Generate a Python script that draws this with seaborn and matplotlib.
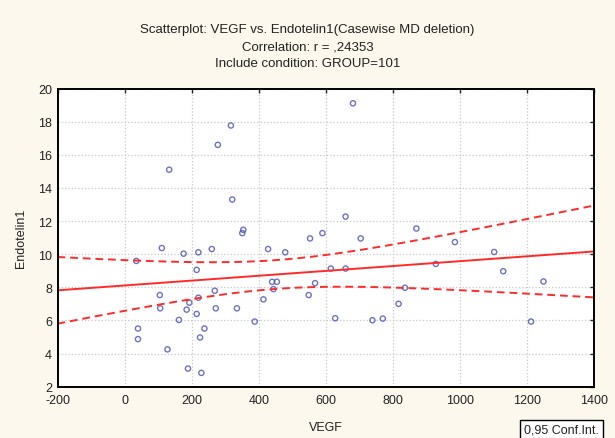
import numpy as np
import pandas as pd
import matplotlib
matplotlib.use("Agg")
import matplotlib.pyplot as plt
import seaborn as sns

vegf = [317, 278, 133, 321, 354, 351, 590, 553, 681, 659, 870, 704, 111, 35, 176,
        220, 260, 428, 479, 215, 615, 105, 106, 40, 40, 128, 162, 185, 193, 215,
        220, 269, 272, 238, 225, 189, 229, 335, 388, 414, 440, 454, 444, 549, 568,
        628, 659, 739, 770, 817, 836, 928, 985, 1102, 1129, 1249, 1212]
endotelin1 = [17.77, 16.6, 15.1, 13.3, 11.47, 11.27, 11.27, 10.95, 19.11, 12.27, 11.55,
              10.95, 10.37, 9.59, 10.03, 10.11, 10.31, 10.31, 10.11, 9.05, 9.13, 7.53,
              6.73, 5.51, 4.87, 4.25, 6.03, 6.65, 7.07, 6.39, 7.37, 7.79, 6.73, 5.51,
              4.97, 3.09, 2.83, 6.73, 5.93, 7.27, 8.33, 8.33, 7.89, 7.53, 8.25, 6.13,
              9.13, 6.01, 6.11, 7.0, 7.97, 9.41, 10.73, 10.13, 8.97, 8.35, 5.93]
x_ticks = list(range(-200, 1401, 200))
y_ticks = list(range(2, 21, 2))
title_lines = ["Scatterplot: VEGF vs. Endotelin1(Casewise MD deletion)",
               "Correlation: r = ,24353",
               "Include condition: GROUP=101"]

df = pd.DataFrame({"VEGF": vegf, "Endotelin1": endotelin1})

sns.set_style("white")
plt.rcParams["font.family"] = ["Liberation Sans", "DejaVu Sans"]
plt.rcParams["axes.unicode_minus"] = False

bg = "#FCF8EE"
fig = plt.figure(figsize=(6.15, 4.39), dpi=100, facecolor=bg)
ax = fig.add_axes([0.0935, 0.117, 0.8725, 0.679])
ax.set_facecolor("white")
ax.set_xlim(-200, 1400)
ax.set_ylim(2, 20)

red = "#FF2A2A"
sns.regplot(data=df, x="VEGF", y="Endotelin1", ax=ax, ci=None, truncate=False,
            scatter_kws=dict(s=14, facecolors="none", edgecolors="#4B4FB5", linewidths=1.0),
            line_kws=dict(color=red, lw=1.4))

# analytic 95% confidence band of the regression line
x = np.asarray(vegf, float)
y = np.asarray(endotelin1, float)
n = len(x)
b, a = np.polyfit(x, y, 1)
resid = y - (a + b * x)
s = np.sqrt(np.sum(resid ** 2) / (n - 2))
t = 2.0049
xg = np.linspace(-200, 1400, 200)
se = s * np.sqrt(1.0 / n + (xg - x.mean()) ** 2 / np.sum((x - x.mean()) ** 2))
yfit = a + b * xg
band = pd.DataFrame({"x": np.concatenate([xg, xg]),
                     "y": np.concatenate([yfit + t * se, yfit - t * se]),
                     "side": ["upper"] * len(xg) + ["lower"] * len(xg)})
for side in ["upper", "lower"]:
    sub = band[band.side == side]
    sns.lineplot(data=sub, x="x", y="y", ax=ax, color=red, lw=1.4,
                 linestyle=(0, (4, 2.5)), legend=False)

ax.set_xlim(-200, 1400)
ax.set_ylim(2, 20)
ax.set_xticks(x_ticks)
ax.set_yticks(y_ticks)
ax.grid(True, color="#C8C8C8", linestyle=":", linewidth=0.9)
ax.tick_params(direction="in", length=3, width=1, top=True, right=True,
               labelsize=9, colors="#222222", pad=5)
ax.tick_params(axis="y", pad=4)
for sp in ax.spines.values():
    sp.set_color("black")
    sp.set_linewidth(1.4)
ax.set_xlabel("VEGF", fontsize=9, color="#222222", labelpad=11)
ax.set_ylabel("Endotelin1", fontsize=9, color="#222222", labelpad=8)

for i, line in enumerate(title_lines):
    fig.text(0.5, 1 - (30 + 17 * i) / 439, line, ha="center", va="center",
             fontsize=9.5, color="#222222")

fig.text(524 / 615, 1 - 431 / 439, "0,95 Conf.Int.", ha="left", va="center",
         fontsize=9, color="#222222",
         bbox=dict(facecolor="white", edgecolor="black", boxstyle="square,pad=0.35", lw=1))

fig.savefig("out.png", dpi=100, facecolor=bg)
